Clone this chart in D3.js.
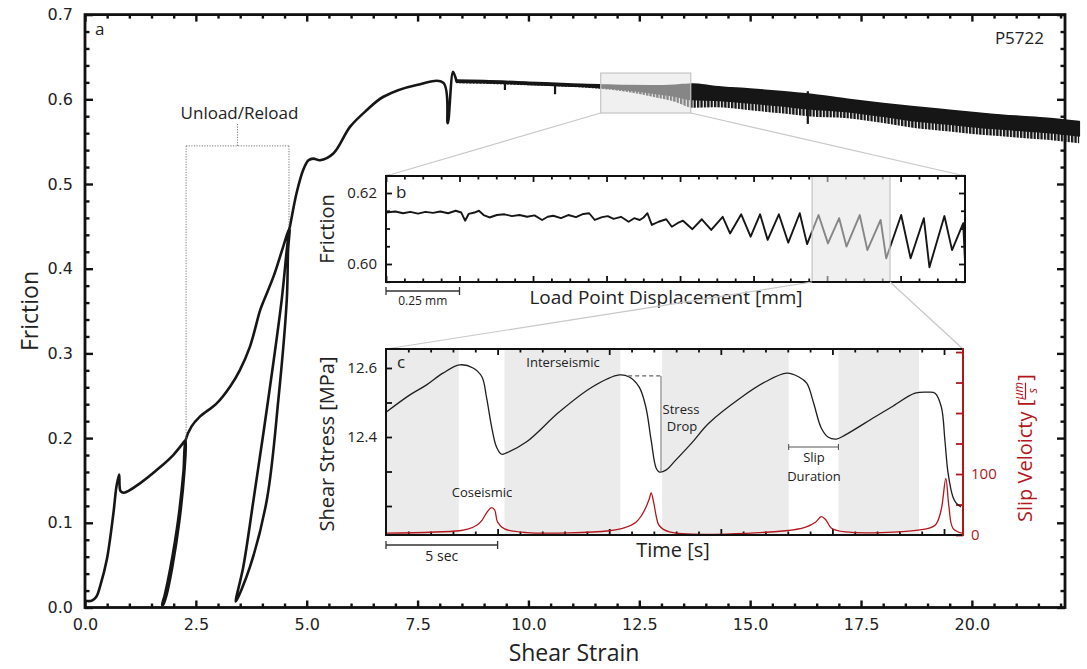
<!DOCTYPE html>
<html><head><meta charset="utf-8">
<script src="https://cdn.jsdelivr.net/npm/d3@7"></script>
<style>body{margin:0;background:#fff}svg{display:block}</style>
</head><body>
<svg id="chart" width="1087" height="669"></svg>
<script>
// ---------------- DATA ----------------
// Panel a: friction vs shear strain (ordered path incl. unload/reload loops)
const curveStrain   = [0,0.15,0.26,0.34,0.49,0.64,0.71,0.77,0.80,0.88,1.24,1.69,1.99,2.25,2.27,
  2.24,2.13,1.97,1.84,1.76,1.74,1.80,1.93,2.10,2.22,2.27,
  2.40,2.59,2.97,3.27,3.49,3.72,3.95,4.03,4.25,4.47,4.61,
  4.58,4.55,4.36,4.10,3.72,3.40,3.57,3.80,4.13,4.435,4.55,4.61,
  4.62,4.77,4.92,5.04,5.15,5.30,5.60,5.98,6.35,6.73,7.48,8.08,8.18,8.30,8.38];
const curveFriction = [0.008,0.008,0.013,0.025,0.056,0.111,0.143,0.157,0.1375,0.1355,0.1466,0.1655,0.180,0.1966,0.1977,
  0.16,0.103,0.048,0.015,0.003,0.003,0.015,0.048,0.103,0.16,0.1977,
  0.2135,0.2253,0.241,0.2607,0.280,0.308,0.351,0.362,0.3906,0.426,0.4477,
  0.422,0.363,0.245,0.127,0.048,0.007,0.048,0.127,0.245,0.363,0.422,0.4477,
  0.4496,0.489,0.5165,0.528,0.530,0.528,0.536,0.5677,0.587,0.603,0.617,0.6196,0.5717,0.6326,0.6208];
// stick-slip band (upper / lower envelopes)
const bandStrain = [8.38,9.0,10.0,11.0,11.6,12.2,12.8,13.3,13.7,14.2,15.0,15.7,16.3,17.2,18.0,18.7,19.5,20.2,21.0,21.7,22.42];
const bandUpper  = [0.6225,0.622,0.620,0.618,0.617,0.616,0.6158,0.6165,0.618,0.615,0.612,0.609,0.606,0.600,0.595,0.591,0.587,0.5835,0.580,0.5776,0.5736];
const bandLower  = [0.6190,0.6185,0.6165,0.6145,0.6125,0.609,0.603,0.597,0.590,0.5905,0.587,0.5835,0.580,0.5776,0.572,0.5661,0.562,0.558,0.555,0.5521,0.548];
const spikeStrain = [9.47,10.6,16.3];
const spikeTop    = [0.621,0.619,0.6095];
const spikeBottom = [0.611,0.606,0.571];
const mainXTicks = [0,2.5,5,7.5,10,12.5,15,17.5,20];
const mainYTicks = [0,0.1,0.2,0.3,0.4,0.5,0.6,0.7];

// Panel b: friction vs load point displacement
const bDisp = [0,0.032,0.058,0.083,0.109,0.134,0.160,0.185,0.211,0.237,0.256,0.269,0.281,0.301,0.316,0.332,0.352,0.377,0.403,0.428,0.454,0.480,0.505,0.531,0.550,0.569,0.595,0.620,0.646,0.671,0.691,0.710,0.735,0.754,0.774,0.799,0.825,0.844,0.863,0.876,0.889,0.904,0.927,0.953,0.972,0.991,1.010,1.042,1.074,1.106,1.145,1.170,1.208,1.240,1.272,1.298,1.336,1.368,1.407,1.432,1.471,1.503,1.541,1.566,1.611,1.637,1.682,1.701,1.752,1.784,1.829,1.848,1.899,1.925,1.963,1.969];
const bFric = [0.6145,0.6148,0.6143,0.6147,0.6142,0.6147,0.6144,0.6148,0.6143,0.6150,0.6145,0.6122,0.6141,0.6145,0.6150,0.6138,0.6131,0.6138,0.6140,0.6135,0.6138,0.6133,0.6137,0.6124,0.6133,0.6136,0.6129,0.6138,0.6132,0.6141,0.6143,0.6124,0.6132,0.6135,0.6127,0.6133,0.6119,0.6129,0.6124,0.6131,0.6143,0.6110,0.6119,0.6126,0.6105,0.6115,0.6122,0.6098,0.6126,0.6096,0.6133,0.6086,0.6140,0.6077,0.6140,0.6068,0.6140,0.6060,0.6143,0.6056,0.6138,0.6058,0.6129,0.6049,0.6138,0.6039,0.6124,0.6016,0.6138,0.6016,0.6129,0.5991,0.6135,0.6039,0.6115,0.6005];
const bYTicks = [0.60,0.62];
const bBox = [1.449,1.714];

// Panel c: shear stress and slip velocity vs time
const cTime   = [0.03,1.07,1.82,2.55,3.3,3.9,4.3,4.5,4.73,4.95,5.18,5.4,6.3,7.77,9.24,10.45,10.9,11.34,11.64,11.88,12.1,12.23,12.54,12.98,13.7,14.46,15.94,17.0,17.95,18.5,18.85,19.15,19.5,19.8,20.18,20.58,21.9,22.65,23.7,24.29,24.6,24.88,25.04,25.18,25.4,25.54,25.76];
const cStress = [12.473,12.522,12.551,12.585,12.609,12.60,12.574,12.516,12.43,12.371,12.35,12.354,12.386,12.473,12.545,12.58,12.574,12.545,12.487,12.39,12.31,12.299,12.304,12.333,12.383,12.44,12.516,12.56,12.585,12.574,12.556,12.5,12.426,12.4,12.394,12.406,12.458,12.487,12.527,12.53,12.527,12.487,12.39,12.296,12.226,12.209,12.197];
const vTime = [0,3.3,3.7,4.06,4.3,4.5,4.73,4.87,5.0,5.31,6.3,10.0,10.7,11.2,11.45,11.65,11.8,11.88,12.0,12.1,12.23,12.7,17.9,18.8,19.24,19.5,19.7,19.96,20.58,23.84,24.6,24.87,25.08,25.22,25.4,25.8];
const vVel  = [3,7,10,16,24,36,45,41,21,10,4,7,12,21,32,46,60,69,52,32,16,5,7,13,21,30,25,11,5,8,16,41,93,46,11,3];
const interStart = [0,5.31,12.37,20.27];
const interEnd   = [3.26,10.5,18.04,23.88];
const cStressTicks = [12.4,12.6];
const cVelTicks = [0,100];

// ---------------- DRAW ----------------
const svg = d3.select("#chart");
const UI = "'Open Sans', 'DejaVu Sans', sans-serif";
const TK = "'DejaVu Sans', sans-serif";
const RED = "#b3171d";
const INK = "#161616";

// vertical-stripe texture for the stick-slip band's lower fringe
const defs = svg.append("defs");
const pat = defs.append("pattern").attr("id", "stripes").attr("patternUnits", "userSpaceOnUse")
  .attr("width", 3.4).attr("height", 8);
pat.append("rect").attr("x", 0).attr("y", 0).attr("width", 2.3).attr("height", 8).attr("fill", INK);

function axis(g, fn, scale, vals, size, tr, fmt, o) {
  const a = fn(scale).tickValues(vals).tickSize(size).tickPadding(o.pad || 6).tickFormat(fmt || (() => ""));
  const s = g.append("g").attr("transform", tr).call(a);
  s.select(".domain").remove();
  s.selectAll(".tick line").attr("stroke", o.color || "#111").attr("stroke-width", o.sw || 2);
  s.selectAll(".tick text").attr("font-family", o.font || UI).attr("font-size", o.fs || 15).attr("fill", o.tc || o.color || "#222");
  return s;
}
const between = (a, b, st, ex) => d3.range(a, b + 1e-9, st).filter(v => !ex.some(e => Math.abs(e - v) < 1e-6));
function dl(g, x1, y1, x2, y2, st) { const l = g.append("line").attr("x1", x1).attr("y1", y1).attr("x2", x2).attr("y2", y2); for (const k in st) l.attr(k, st[k]); return l; }

// ===== Panel a =====
const xA = d3.scaleLinear().domain([0, 22.1]).range([85, 1065]);
const yA = d3.scaleLinear().domain([0, 0.7]).range([607.5, 14.6]);
const gA = svg.append("g");
const xAMinor = between(0, 22, 0.5, mainXTicks);
const yAMinor = between(0, 0.7, 0.02, mainYTicks);
axis(gA, d3.axisBottom, xA, mainXTicks, -7, "translate(0,607.5)", d3.format(".1f"), {pad: 11, font: TK, fs: 16, sw: 2.4});
axis(gA, d3.axisBottom, xA, xAMinor, -4, "translate(0,607.5)", null, {sw: 2.4});
axis(gA, d3.axisTop, xA, mainXTicks, -7, "translate(0,14.6)", null, {sw: 2.4});
axis(gA, d3.axisTop, xA, xAMinor, -4, "translate(0,14.6)", null, {sw: 2.4});
axis(gA, d3.axisLeft, yA, mainYTicks, -8, "translate(85,0)", d3.format(".1f"), {pad: 12, font: TK, fs: 16, sw: 2.4});
axis(gA, d3.axisLeft, yA, yAMinor, -4.5, "translate(85,0)", null, {sw: 2.4});
axis(gA, d3.axisRight, yA, mainYTicks, -8, "translate(1065,0)", null, {sw: 2.4});
axis(gA, d3.axisRight, yA, yAMinor, -4.5, "translate(1065,0)", null, {sw: 2.4});
gA.append("rect").attr("x", 85).attr("y", 14.6).attr("width", 980).attr("height", 592.9)
  .attr("fill", "none").attr("stroke", "#111").attr("stroke-width", 2.8);

const curvePts = curveStrain.map((x, i) => [x, curveFriction[i]]);
gA.append("path").datum(curvePts)
  .attr("d", d3.line().x(d => xA(d[0])).y(d => yA(d[1])).curve(d3.curveCatmullRom.alpha(0.5)))
  .attr("fill", "none").attr("stroke", INK).attr("stroke-width", 2.6).attr("stroke-linejoin", "round");
const bandPts = bandStrain.map((x, i) => ({x, u: bandUpper[i], l: bandLower[i]}));
// textured lower fringe (full envelope) + solid upper core
gA.append("path").datum(bandPts)
  .attr("d", d3.area().x(d => xA(d.x)).y0(d => yA(d.l)).y1(d => yA(d.u)).curve(d3.curveMonotoneX))
  .attr("fill", "url(#stripes)").attr("stroke", "none");
gA.append("path").datum(bandPts)
  .attr("d", d3.area().x(d => xA(d.x)).y0(d => yA(d.l) - 0.35 * (yA(d.l) - yA(d.u))).y1(d => yA(d.u)).curve(d3.curveMonotoneX))
  .attr("fill", INK).attr("stroke", INK).attr("stroke-width", 1.8).attr("stroke-linejoin", "round");
gA.selectAll(".spk").data(spikeStrain).enter().append("line")
  .attr("x1", d => xA(d)).attr("x2", d => xA(d))
  .attr("y1", (d, i) => yA(spikeTop[i])).attr("y2", (d, i) => yA(spikeBottom[i]))
  .attr("stroke", INK).attr("stroke-width", 2.2);

// zoom box in a
const boxA = {x0: 11.63, x1: 13.66, y0: 0.5838, y1: 0.631};
gA.append("rect").attr("x", xA(boxA.x0)).attr("y", yA(boxA.y1))
  .attr("width", xA(boxA.x1) - xA(boxA.x0)).attr("height", yA(boxA.y0) - yA(boxA.y1))
  .attr("fill", "#e4e4e4").attr("fill-opacity", 0.55).attr("stroke", "#c4c4c4").attr("stroke-width", 1.2);

// Unload/Reload annotation
const dot = {stroke: "#777", "stroke-width": 1, "stroke-dasharray": "1.2,1.4", fill: "none"};
const uY = yA(0.545);
dl(gA, xA(2.28), uY, xA(4.6), uY, dot);
dl(gA, xA(2.28), uY, xA(2.28), yA(0.1977), dot);
dl(gA, xA(4.6), uY, xA(4.6), yA(0.449), dot);
dl(gA, (xA(2.28) + xA(4.6)) / 2, uY, (xA(2.28) + xA(4.6)) / 2, 124, dot);
gA.append("text").attr("x", 239.5).attr("y", 119).attr("text-anchor", "middle")
  .attr("font-family", UI).attr("font-size", 17).attr("fill", "#222").text("Unload/Reload");
gA.append("text").attr("x", 95).attr("y", 35).attr("font-family", UI).attr("font-size", 17).attr("fill", "#222").text("a");
gA.append("text").attr("x", 1044).attr("y", 44).attr("text-anchor", "end").attr("font-family", UI).attr("font-size", 17).attr("fill", "#222").text("P5722");
gA.append("text").attr("x", 574).attr("y", 661).attr("text-anchor", "middle").attr("font-family", UI).attr("font-size", 23).attr("fill", "#222").text("Shear Strain");
gA.append("text").attr("transform", "translate(38,311) rotate(-90)").attr("text-anchor", "middle").attr("font-family", UI).attr("font-size", 23).attr("fill", "#222").text("Friction");

// ===== Panel b =====
const xB = d3.scaleLinear().domain([0, 1.969]).range([386, 965]);
const yB = d3.scaleLinear().domain([0.59493, 0.62479]).range([282, 176]);
const conn = {stroke: "#c8c8c8", "stroke-width": 1.2};
dl(svg, xA(boxA.x0), yA(boxA.y0), 386, 176, conn);
dl(svg, xA(boxA.x1), yA(boxA.y0), 965, 176, conn);
const gB = svg.append("g");
gB.append("rect").attr("x", 386).attr("y", 176).attr("width", 579).attr("height", 106).attr("fill", "#fff");
const bXMaj = d3.range(0, 1.97, 0.25);
const bXMin = between(0, 1.969, 0.0625, bXMaj);
const bYMin = between(0.595, 0.625, 0.005, bYTicks);
axis(gB, d3.axisBottom, xB, bXMaj, -6, "translate(0,282)", null, {sw: 1.8});
axis(gB, d3.axisBottom, xB, bXMin, -3.5, "translate(0,282)", null, {sw: 1.8});
axis(gB, d3.axisTop, xB, bXMaj, -6, "translate(0,176)", null, {sw: 1.8});
axis(gB, d3.axisTop, xB, bXMin, -3.5, "translate(0,176)", null, {sw: 1.8});
axis(gB, d3.axisLeft, yB, bYTicks, -6, "translate(386,0)", d3.format(".2f"), {pad: 9, fs: 15, sw: 1.8});
axis(gB, d3.axisLeft, yB, bYMin, -4, "translate(386,0)", null, {sw: 1.8});
axis(gB, d3.axisRight, yB, bYTicks, -6, "translate(965,0)", null, {sw: 1.8});
axis(gB, d3.axisRight, yB, bYMin, -4, "translate(965,0)", null, {sw: 1.8});
gB.append("path").datum(bDisp.map((x, i) => [x, bFric[i]]))
  .attr("d", d3.line().x(d => xB(d[0])).y(d => yB(d[1])))
  .attr("fill", "none").attr("stroke", INK).attr("stroke-width", 1.9).attr("stroke-linejoin", "round");
gB.append("rect").attr("x", xB(bBox[0])).attr("y", 176).attr("width", xB(bBox[1]) - xB(bBox[0])).attr("height", 106)
  .attr("fill", "#e4e4e4").attr("fill-opacity", 0.55).attr("stroke", "#c4c4c4").attr("stroke-width", 1.2);
gB.append("rect").attr("x", 386).attr("y", 176).attr("width", 579).attr("height", 106)
  .attr("fill", "none").attr("stroke", "#111").attr("stroke-width", 2);
gB.append("text").attr("x", 396).attr("y", 198).attr("font-family", UI).attr("font-size", 17).attr("fill", "#222").text("b");
gB.append("text").attr("transform", "translate(334,229) rotate(-90)").attr("text-anchor", "middle").attr("font-family", UI).attr("font-size", 20).attr("fill", "#222").text("Friction");
gB.append("text").attr("x", 666).attr("y", 304).attr("text-anchor", "middle").attr("font-family", UI).attr("font-size", 19).attr("fill", "#222").text("Load Point Displacement [mm]");
// 0.25 mm scale bar
const sb = {stroke: "#333", "stroke-width": 1.3};
dl(gB, xB(0), 291, xB(0.25), 291, sb);
dl(gB, xB(0), 287, xB(0), 295, sb);
dl(gB, xB(0.25), 287, xB(0.25), 295, sb);
gB.append("text").attr("x", (xB(0) + xB(0.25)) / 2).attr("y", 305).attr("text-anchor", "middle").attr("font-family", UI).attr("font-size", 12).attr("fill", "#222").text("0.25 mm");

// ===== Panel c =====
dl(svg, xB(bBox[0]), 282, 386, 349, conn);
dl(svg, xB(bBox[1]), 282, 963, 349, conn);
const xC = d3.scaleLinear().domain([0, 25.85]).range([386, 963]);
const yC = d3.scaleLinear().domain([12.116, 12.655]).range([535, 349]);
const vC = d3.scaleLinear().domain([0, 305]).range([535, 349]);
const gC = svg.append("g");
gC.append("rect").attr("x", 386).attr("y", 349).attr("width", 577).attr("height", 186).attr("fill", "#fff");
gC.selectAll(".band").data(interStart).enter().append("rect")
  .attr("x", d => xC(d)).attr("y", 349).attr("width", (d, i) => xC(interEnd[i]) - xC(d)).attr("height", 186)
  .attr("fill", "#ebebeb");
const cXMaj = [5, 10, 15, 20, 25];
const cXMin = between(1, 25, 1, cXMaj);
const cYMin = [12.2, 12.3, 12.5];
const vMin = [50, 150, 200, 250, 300];
axis(gC, d3.axisBottom, xC, cXMaj, -6, "translate(0,535)", null, {sw: 1.8});
axis(gC, d3.axisBottom, xC, cXMin, -3.5, "translate(0,535)", null, {sw: 1.8});
axis(gC, d3.axisTop, xC, cXMaj, -6, "translate(0,349)", null, {sw: 1.8});
axis(gC, d3.axisTop, xC, cXMin, -3.5, "translate(0,349)", null, {sw: 1.8});
axis(gC, d3.axisLeft, yC, cStressTicks, -6, "translate(386,0)", d3.format(".1f"), {pad: 9, fs: 15, sw: 1.8});
axis(gC, d3.axisLeft, yC, cYMin, -6, "translate(386,0)", null, {sw: 1.8});
axis(gC, d3.axisRight, vC, cVelTicks, -7, "translate(963,0)", d3.format("d"), {pad: 8, fs: 15, sw: 1.8, color: RED});
axis(gC, d3.axisRight, vC, vMin, -7, "translate(963,0)", null, {sw: 1.8, color: RED});
gC.append("path").datum(cTime.map((t, i) => [t, cStress[i]]))
  .attr("d", d3.line().x(d => xC(d[0])).y(d => yC(d[1])).curve(d3.curveCatmullRom.alpha(0.5)))
  .attr("fill", "none").attr("stroke", "#1e1e1e").attr("stroke-width", 1.3);
gC.append("path").datum(vTime.map((t, i) => [t, vVel[i]]))
  .attr("d", d3.line().x(d => xC(d[0])).y(d => vC(d[1])).curve(d3.curveCatmullRom.alpha(0.5)))
  .attr("fill", "none").attr("stroke", RED).attr("stroke-width", 1.3);
// frame
dl(gC, 386, 349, 963, 349, {stroke: "#111", "stroke-width": 2});
dl(gC, 386, 535, 963, 535, {stroke: "#111", "stroke-width": 2});
dl(gC, 386, 348, 386, 536, {stroke: "#111", "stroke-width": 2});
dl(gC, 963, 348, 963, 536, {stroke: RED, "stroke-width": 2});
// stress drop annotation
dl(gC, xC(10.85), yC(12.577), xC(12.4), yC(12.577), {stroke: "#666", "stroke-width": 1.1, "stroke-dasharray": "4,3"});
dl(gC, xC(12.32), yC(12.577), xC(12.32), yC(12.30), {stroke: "#777", "stroke-width": 1.1});
// slip duration bracket
const sdY = yC(12.371);
dl(gC, xC(18.04), sdY, xC(20.27), sdY, {stroke: "#555", "stroke-width": 1.1});
dl(gC, xC(18.04), sdY - 3, xC(18.04), sdY + 3, {stroke: "#555", "stroke-width": 1.1});
dl(gC, xC(20.27), sdY - 3, xC(20.27), sdY + 3, {stroke: "#555", "stroke-width": 1.1});
const ann = [["c", 397, 368, "start", 17], ["Interseismic", 563, 367, "middle", 13], ["Coseismic", 482, 497, "middle", 13],
  ["Stress", 681, 414, "middle", 13], ["Drop", 682, 431, "middle", 13], ["Slip", 814, 462, "middle", 13], ["Duration", 814, 481, "middle", 13]];
gC.selectAll(".ann").data(ann).enter().append("text")
  .attr("x", d => d[1]).attr("y", d => d[2]).attr("text-anchor", d => d[3]).attr("font-size", d => d[4])
  .attr("font-family", UI).attr("fill", "#222").text(d => d[0]);
// 5 sec bar
dl(gC, xC(0), 545, xC(5), 545, sb);
dl(gC, xC(0), 541, xC(0), 549, sb);
dl(gC, xC(5), 541, xC(5), 549, sb);
gC.append("text").attr("x", (xC(0) + xC(5)) / 2).attr("y", 561).attr("text-anchor", "middle").attr("font-family", UI).attr("font-size", 14).attr("fill", "#222").text("5 sec");
gC.append("text").attr("x", 673).attr("y", 557).attr("text-anchor", "middle").attr("font-family", UI).attr("font-size", 20).attr("fill", "#222").text("Time [s]");
gC.append("text").attr("transform", "translate(334,444) rotate(-90)").attr("text-anchor", "middle").attr("font-family", UI).attr("font-size", 20).attr("fill", "#222").text("Shear Stress [MPa]");
// Slip velocity label with fraction
const gv = gC.append("g").attr("transform", "translate(1032,522) rotate(-90)");
const t1 = gv.append("text").attr("x", 0).attr("y", 0).attr("font-family", UI).attr("font-size", 20).attr("fill", RED).text("Slip Veloicty [");
const L = t1.node().getComputedTextLength();
gv.append("text").attr("x", L + 9).attr("y", -9).attr("text-anchor", "middle").attr("font-family", UI).attr("font-style", "italic").attr("font-size", 12).attr("fill", RED).text("μm");
gv.append("line").attr("x1", L + 1).attr("x2", L + 17).attr("y1", -6.5).attr("y2", -6.5).attr("stroke", RED).attr("stroke-width", 1.2);
gv.append("text").attr("x", L + 9).attr("y", 4.5).attr("text-anchor", "middle").attr("font-family", UI).attr("font-style", "italic").attr("font-size", 12).attr("fill", RED).text("s");
gv.append("text").attr("x", L + 19).attr("y", 0).attr("font-family", UI).attr("font-size", 20).attr("fill", RED).text("]");
</script>
</body></html>
